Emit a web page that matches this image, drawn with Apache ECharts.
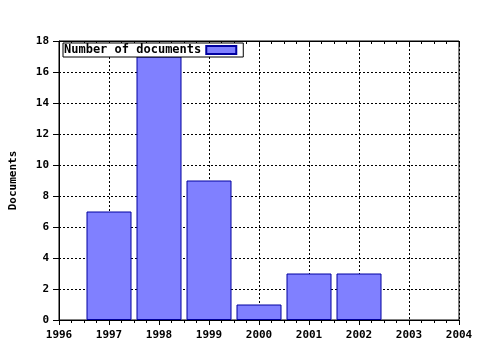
<!DOCTYPE html>
<html>
<head>
<meta charset="utf-8">
<script src="https://cdn.jsdelivr.net/npm/echarts@6/dist/echarts.min.js"></script>
<style>html,body{margin:0;padding:0;background:#fff;}#c{width:480px;height:350px;}</style>
</head>
<body>
<div id="c"></div>
<script>
var years = [1997, 1998, 1999, 2000, 2001, 2002];
var counts = [7, 17, 9, 1, 3, 3];
var seriesName = 'Number of documents';
var yName = 'Documents';

var font = 'DejaVu Sans Mono';
var chart = echarts.init(document.getElementById('c'), null, {renderer: 'canvas'});
var data = years.map(function (y, i) { return [y, counts[i]]; });
var dotted = {color: '#000', width: 1, type: [2, 2]};
chart.setOption({
  animation: false,
  backgroundColor: '#fff',
  grid: {left: 57, right: 21, top: 41, bottom: 30, show: true, borderColor: '#000', borderWidth: 1},
  legend: {
    show: true, left: 63, top: 43, orient: 'horizontal', align: 'right',
    backgroundColor: '#fff', borderColor: '#000', borderWidth: 1,
    padding: [1, 6, 1, 1], itemWidth: 30, itemHeight: 8, itemGap: 5,
    textStyle: {fontFamily: font, fontWeight: 'bold', fontSize: 12, color: '#000'},
    data: [{name: seriesName, icon: 'rect'}]
  },
  xAxis: [{
    type: 'value', min: 1996, max: 2004, interval: 1, position: 'bottom',
    axisLine: {show: true, lineStyle: {color: '#000'}},
    axisTick: {show: true, inside: false, length: 5, lineStyle: {color: '#000'}},
    minorTick: {show: true, splitNumber: 4, length: 3, lineStyle: {color: '#000'}},
    axisLabel: {fontFamily: font, fontWeight: 'bold', fontSize: 11, color: '#000', margin: 10, formatter: function (v) { return String(v); }},
    splitLine: {show: true, lineStyle: dotted}
  }, {
    type: 'value', min: 1996, max: 2004, interval: 1, position: 'top',
    axisLine: {show: true, lineStyle: {color: '#000'}},
    axisTick: {show: true, inside: true, length: 4, lineStyle: {color: '#000'}},
    minorTick: {show: true, splitNumber: 4, length: 3, lineStyle: {color: '#000'}},
    axisLabel: {show: false},
    splitLine: {show: false}
  }],
  yAxis: {
    type: 'value', min: 0, max: 18, interval: 2,
    name: yName, nameLocation: 'middle', nameGap: 40, nameRotate: 90,
    nameTextStyle: {fontFamily: font, fontWeight: 'bold', fontSize: 11, color: '#000'},
    axisLine: {show: true, lineStyle: {color: '#000'}},
    axisTick: {show: true, inside: false, length: 6, lineStyle: {color: '#000'}},
    axisLabel: {fontFamily: font, fontWeight: 'bold', fontSize: 11, color: '#000', margin: 10},
    splitLine: {show: true, lineStyle: dotted}
  },
  series: [{
    name: seriesName, type: 'bar', xAxisIndex: 0, data: data, barWidth: 45,
    itemStyle: {color: '#8080ff', borderColor: '#0000a0', borderWidth: 1}
  }]
});
</script>
</body>
</html>
